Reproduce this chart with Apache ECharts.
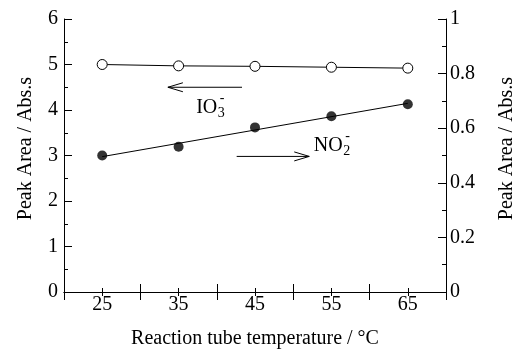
<!DOCTYPE html>
<html>
<head>
<meta charset="utf-8">
<script src="https://cdn.jsdelivr.net/npm/echarts@6/dist/echarts.min.js"></script>
<style>
  html, body { margin: 0; padding: 0; background: #fff; }
  #chart { width: 519px; height: 350px; }
</style>
</head>
<body>
<div id="chart"></div>
<script>
// Reaction tube temperature (°C)
const temps = [25, 35, 45, 55, 65];
// IO3- peak area, left axis (Abs.s)
const iodate = [5.00, 4.97, 4.96, 4.94, 4.92];
// NO2- peak area, right axis (Abs.s)
const nitrite = [0.500, 0.532, 0.603, 0.644, 0.688];
// tick labels
const xLabels = [25, 35, 45, 55, 65];

const FONT = 'Liberation Serif';

// least-squares line through the NO2- points
function fitLine(xs, ys) {
  const n = xs.length;
  const mx = xs.reduce((a, b) => a + b, 0) / n;
  const my = ys.reduce((a, b) => a + b, 0) / n;
  let sxy = 0, sxx = 0;
  for (let i = 0; i < n; i++) {
    sxy += (xs[i] - mx) * (ys[i] - my);
    sxx += (xs[i] - mx) * (xs[i] - mx);
  }
  const k = sxy / sxx;
  const b = my - k * mx;
  const x0 = xs[0], x1 = xs[n - 1];
  return [[x0, k * x0 + b], [x1, k * x1 + b]];
}

const chart = echarts.init(document.getElementById('chart'), null, { renderer: 'canvas' });

const axisLine = { show: true, lineStyle: { color: '#000', width: 1 } };
const tickStyle = { color: '#000', width: 1 };
const labelStyle = { color: '#000', fontFamily: FONT, fontSize: 20 };

const option = {
  animation: false,
  backgroundColor: '#fff',
  textStyle: { fontFamily: FONT, color: '#000' },
  grid: { left: 64, right: 73, top: 19, bottom: 58, containLabel: false, outerBoundsMode: 'none' },
  xAxis: [
    {
      type: 'value', position: 'bottom', min: 20, max: 70, interval: 10,
      axisLine,
      axisTick: { show: true, inside: true, length: 8, lineStyle: tickStyle },
      minorTick: { show: true, splitNumber: 2, length: 4, lineStyle: tickStyle },
      splitLine: { show: false },
      axisLabel: Object.assign({ show: true, customValues: xLabels, margin: 3 }, labelStyle),
      name: 'Reaction tube temperature / °C',
      nameLocation: 'middle', nameGap: 37,
      nameTextStyle: labelStyle
    },
    {
      type: 'value', position: 'top', min: 20, max: 70, interval: 10,
      axisLine,
      axisTick: { show: true, inside: true, length: 8, lineStyle: tickStyle },
      minorTick: { show: true, splitNumber: 2, length: 4, lineStyle: tickStyle },
      splitLine: { show: false },
      axisLabel: { show: false }
    }
  ],
  yAxis: [
    {
      type: 'value', position: 'left', min: 0, max: 6, interval: 1,
      axisLine,
      axisTick: { show: true, inside: true, length: 8, lineStyle: tickStyle },
      minorTick: { show: true, splitNumber: 2, length: 4, lineStyle: tickStyle },
      splitLine: { show: false },
      axisLabel: Object.assign({ margin: 6 }, labelStyle),
      name: 'Peak Area / Abs.s',
      nameLocation: 'middle', nameGap: 28,
      nameTextStyle: Object.assign({ padding: [0, 0, 0, 14] }, labelStyle)
    },
    {
      type: 'value', position: 'right', min: 0, max: 1, interval: 0.2,
      axisLine,
      axisTick: { show: true, inside: true, length: 8, lineStyle: tickStyle },
      minorTick: { show: true, splitNumber: 2, length: 4, lineStyle: tickStyle },
      splitLine: { show: false },
      axisLabel: Object.assign({
        margin: 4,
        formatter: v => (v === 0 || v === 1) ? String(v) : v.toFixed(1)
      }, labelStyle),
      name: 'Peak Area / Abs.s',
      nameLocation: 'middle', nameGap: 51, nameRotate: 90,
      nameTextStyle: Object.assign({ padding: [0, 0, 0, 14] }, labelStyle)
    }
  ],
  series: [
    {
      name: 'IO3-', type: 'line', xAxisIndex: 0, yAxisIndex: 0,
      data: temps.map((t, i) => [t, iodate[i]]),
      symbol: 'circle', symbolSize: 10,
      itemStyle: { color: '#fff', borderColor: '#000', borderWidth: 1 },
      lineStyle: { color: '#000', width: 1 },
      z: 3
    },
    {
      name: 'NO2- fit', type: 'line', xAxisIndex: 0, yAxisIndex: 1,
      data: fitLine(temps, nitrite),
      symbol: 'none',
      lineStyle: { color: '#000', width: 1 },
      z: 2
    },
    {
      name: 'NO2-', type: 'scatter', xAxisIndex: 0, yAxisIndex: 1,
      data: temps.map((t, i) => [t, nitrite[i]]),
      symbol: 'circle', symbolSize: 10,
      itemStyle: { color: '#000' },
      z: 4
    }
  ]
};

chart.setOption(option);

// arrows and ion labels, anchored in data space
function px(x, y, yi) {
  return chart.convertToPixel({ xAxisIndex: 0, yAxisIndex: yi }, [x, y]);
}
function arrow(from, to) {
  const dx = to[0] - from[0], dy = to[1] - from[1];
  const len = Math.hypot(dx, dy), ux = dx / len, uy = dy / len;
  const hl = 15, hw = 4.5;
  const bx = to[0] - ux * hl, by = to[1] - uy * hl;
  return [
    { type: 'line', shape: { x1: from[0], y1: from[1], x2: to[0], y2: to[1] },
      style: { stroke: '#000', lineWidth: 1 } },
    { type: 'polyline',
      shape: { points: [[bx - uy * hw, by + ux * hw], to, [bx + uy * hw, by - ux * hw]] },
      style: { stroke: '#000', lineWidth: 1, fill: null } }
  ];
}
function ion(anchor, base, sub) {
  const f = s => s + 'px "' + FONT + '"';
  const ctx = document.createElement('canvas').getContext('2d');
  ctx.font = f(20);
  const baseW = ctx.measureText(base).width;
  const sx = anchor[0] + baseW + 0.5;
  return [
    { type: 'text', style: { text: base, x: anchor[0], y: anchor[1], font: f(20), fill: '#000', verticalAlign: 'middle' } },
    { type: 'text', style: { text: sub, x: sx, y: anchor[1] + 6, font: f(14), fill: '#000', verticalAlign: 'middle' } },
    { type: 'text', style: { text: '-', x: sx + 2, y: anchor[1] - 9, font: f(14), fill: '#000', verticalAlign: 'middle' } }
  ];
}

const g = [];
g.push(...arrow(px(43.3, 4.50, 0), px(33.6, 4.50, 0)));
g.push(...arrow(px(42.6, 2.98, 0), px(52.1, 2.98, 0)));
g.push(...ion(px(37.3, 4.06, 0), 'IO', '3'));
g.push(...ion(px(52.7, 3.22, 0), 'NO', '2'));
chart.setOption({ graphic: g });
</script>
</body>
</html>
